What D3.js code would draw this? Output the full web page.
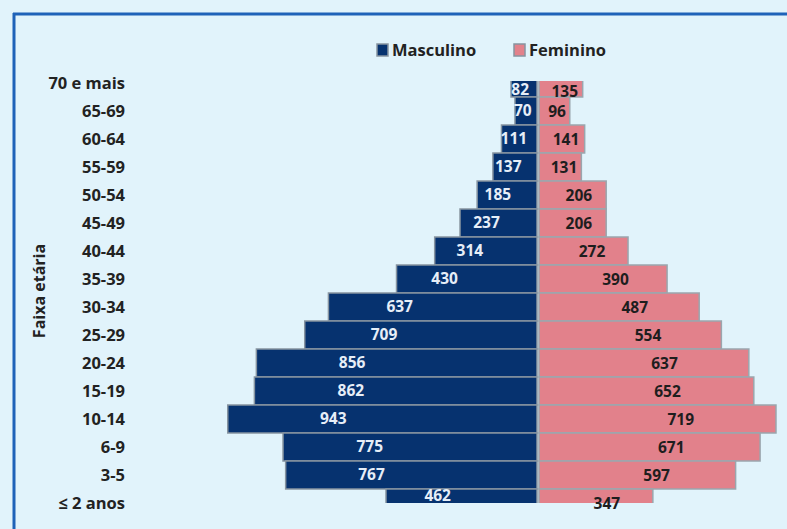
<!DOCTYPE html>
<html>
<head>
<meta charset="utf-8">
<script src="https://cdn.jsdelivr.net/npm/d3@7"></script>
<style>
  body { margin: 0; background: #e1f3fb; }
  svg { display: block; }
</style>
</head>
<body>
<svg id="chart" width="787" height="529"></svg>
<script>
var ageGroups = ["70 e mais", "65-69", "60-64", "55-59", "50-54", "45-49", "40-44", "35-39",
    "30-34", "25-29", "20-24", "15-19", "10-14", "6-9", "3-5", "≤ 2 anos"];
var masculino = [82, 70, 111, 137, 185, 237, 314, 430, 637, 709, 856, 862, 943, 775, 767, 462];
var feminino = [135, 96, 141, 131, 206, 206, 272, 390, 487, 554, 637, 652, 719, 671, 597, 347];
var seriesNames = ["Masculino", "Feminino"];

var svg = d3.select("#chart"),
    width = +svg.attr("width"),
    height = +svg.attr("height");

var font = "'Open Sans', 'Noto Sans', sans-serif";
var maleColor = "#06326f",
    femaleColor = "#e2818b";

var center = 538,
    plotTop = 81,
    plotBottom = 503;

// frame
svg.append("rect").attr("width", width).attr("height", height).attr("fill", "#e1f3fb");
svg.append("line").attr("x1", 13).attr("x2", width).attr("y1", 14).attr("y2", 14)
    .attr("stroke", "#1e62b8").attr("stroke-width", 3);
svg.append("line").attr("x1", 14).attr("x2", 14).attr("y1", 13).attr("y2", height)
    .attr("stroke", "#1e62b8").attr("stroke-width", 3);

var y = d3.scalePoint().domain(ageGroups).range([plotTop + 2, plotBottom]);
var band = y.step();

var xMale = d3.scaleLinear().domain([0, 1000]).range([center, center - 329]);
var xFemale = d3.scaleLinear().domain([0, 1000]).range([center, center + 331]);

var rows = ageGroups.map(function (g, i) {
    return {group: g, m: masculino[i], f: feminino[i]};
});

svg.append("clipPath").attr("id", "plotClip")
    .append("rect").attr("x", 0).attr("y", plotTop).attr("width", width).attr("height", plotBottom - plotTop);

var bars = svg.append("g").attr("clip-path", "url(#plotClip)");

bars.selectAll("rect.male")
    .data(rows)
    .enter().append("rect")
    .attr("class", "male")
    .attr("x", function (d) { return xMale(d.m); })
    .attr("y", function (d) { return y(d.group) - band / 2; })
    .attr("width", function (d) { return xMale(0) - xMale(d.m) - 1; })
    .attr("height", band)
    .attr("fill", maleColor)
    .attr("stroke", "#8794a0")
    .attr("stroke-width", 1.5);

bars.selectAll("rect.female")
    .data(rows)
    .enter().append("rect")
    .attr("class", "female")
    .attr("x", function (d) { return xFemale(0) + 1; })
    .attr("y", function (d) { return y(d.group) - band / 2; })
    .attr("width", function (d) { return xFemale(d.f) - xFemale(0) - 1; })
    .attr("height", band)
    .attr("fill", femaleColor)
    .attr("stroke", "#9aa6ae")
    .attr("stroke-width", 1.5);

// value labels, kept inside the visible part of the clipped end bars
function labelY(d, shift) {
    var v = y(d.group) + shift;
    return Math.max(plotTop + 14, Math.min(plotBottom - 2, v));
}

svg.append("g").selectAll("text")
    .data(rows)
    .enter().append("text")
    .attr("x", function (d) { return center - (center - xMale(d.m)) * 0.66; })
    .attr("y", function (d) { return labelY(d, 5); })
    .attr("text-anchor", "middle")
    .style("font-family", font)
    .style("font-weight", "bold")
    .style("font-size", "15.5px")
    .style("fill", "#e6eef8")
    .text(function (d) { return d.m; });

svg.append("g").selectAll("text")
    .data(rows)
    .enter().append("text")
    .attr("x", function (d) { return center + (xFemale(d.f) - center) * 0.6; })
    .attr("y", function (d) { return Math.max(plotTop + 16, y(d.group) + 6); })
    .attr("text-anchor", "middle")
    .style("font-family", font)
    .style("font-weight", "bold")
    .style("font-size", "15.5px")
    .style("fill", "#1e1e1e")
    .text(function (d) { return d.f; });

// category axis
var yAxis = svg.append("g")
    .attr("transform", "translate(125,0)")
    .call(d3.axisLeft(y).tickSize(0).tickPadding(0));
yAxis.select(".domain").remove();
yAxis.selectAll("text")
    .attr("dy", "0.33em")
    .style("font-family", font)
    .style("font-weight", "bold")
    .style("font-size", "16.5px")
    .style("fill", "#222");

svg.append("text")
    .attr("transform", "translate(45,291) rotate(-90)")
    .attr("text-anchor", "middle")
    .style("font-family", font)
    .style("font-weight", "bold")
    .style("font-size", "16px")
    .style("fill", "#222")
    .text("Faixa etária");

// legend
var legend = svg.append("g").selectAll("g")
    .data(seriesNames)
    .enter().append("g")
    .attr("transform", function (d, i) { return "translate(" + (377 + i * 137) + ",44)"; });
legend.append("rect")
    .attr("width", 11).attr("height", 12)
    .attr("fill", function (d, i) { return i === 0 ? maleColor : femaleColor; })
    .attr("stroke", "#8794a0").attr("stroke-width", 1.5);
legend.append("text")
    .attr("x", 15).attr("y", 12)
    .style("font-family", font)
    .style("font-weight", "bold")
    .style("font-size", "16.5px")
    .style("fill", "#222")
    .text(function (d) { return d; });
</script>
</body>
</html>
